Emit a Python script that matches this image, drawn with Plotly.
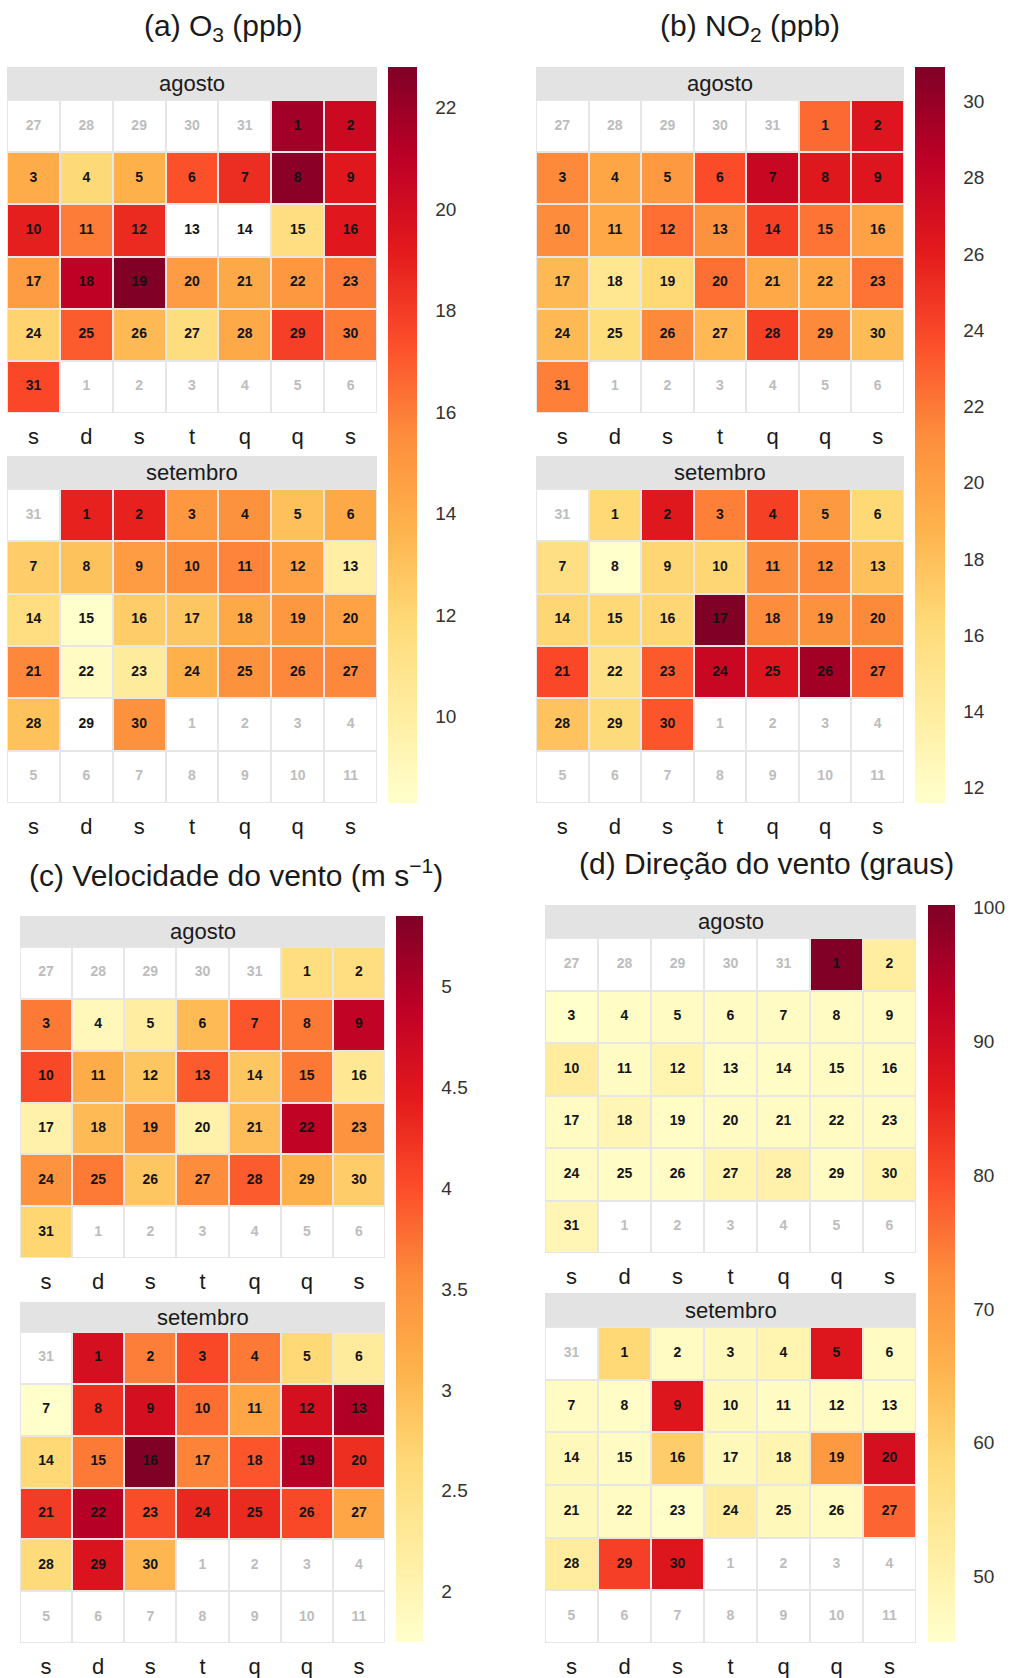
import datetime as dt
import plotly.graph_objects as go

W, H = 1013, 1678
FONT = "Liberation Sans, Arial, sans-serif"

weekday_labels = ["s", "d", "s", "t", "q", "q", "s"]
month_names = ["agosto", "setembro"]
year = 2019
month_numbers = [8, 9]

titles = [
    "(a) O<sub>3</sub> (ppb)",
    "(b) NO<sub>2</sub> (ppb)",
    "(c) Velocidade do vento (m s<sup>\u22121</sup>)",
    "(d) Direção do vento (graus)",
]

# daily values, index = day of month - 1 (None = missing)
o3_aug = [21.8, 20.3, 14.1, 11.9, 13.8, 17.3, 18.5, 22.5, 19.3, 19.0, 16.0, 18.6, None, None, 11.5, 19.3,
          14.8, 20.9, 22.8, 14.8, 14.2, 15.0, 16.0, 12.2, 17.0, 13.4, 11.6, 14.2, 17.9, 16.1, 17.6]
o3_sep = [18.9, 18.9, 15.0, 15.3, 13.1, 14.2, 12.5, 13.0, 14.8, 15.5, 15.8, 14.5, 10.0, 11.5, 8.3,
          12.5, 12.8, 14.2, 15.0, 14.5, 15.7, 8.7, 10.3, 13.8, 15.3, 15.7, 15.7, 13.0, None, 15.3]

no2_aug = [22.6, 26.5, 21.4, 19.7, 20.5, 23.8, 27.8, 26.3, 26.5, 21.3, 19.5, 22.4, 20.9, 24.3, 22.2, 19.9,
           18.4, 14.9, 16.4, 22.4, 19.5, 19.5, 22.2, 18.4, 16.0, 21.4, 18.4, 24.3, 21.4, 18.2, 21.8]
no2_sep = [16.4, 26.3, 21.8, 24.3, 20.5, 16.4, 15.7, 11.6, 16.6, 16.6, 21.3, 21.4, 18.0, 16.6, 16.4,
           16.6, 30.9, 21.3, 20.9, 21.4, 24.0, 15.5, 23.2, 27.8, 26.5, 29.5, 22.8, 17.8, 16.2, 23.4]

ws_aug = [2.54, 2.54, 3.69, 1.93, 2.18, 3.01, 3.95, 3.69, 4.85, 4.05, 3.19, 2.87, 3.91, 2.87, 3.69, 2.33,
          2.11, 3.01, 3.48, 2.11, 2.97, 4.85, 3.48, 3.48, 3.69, 2.87, 3.55, 3.91, 3.12, 2.79, 2.69]
ws_sep = [4.63, 3.66, 4.05, 3.69, 2.65, 2.25, 1.75, 4.27, 4.63, 3.77, 3.26, 4.63, 4.99, 2.65, 3.69,
          5.35, 3.62, 3.95, 4.95, 4.27, 4.16, 4.95, 4.02, 4.34, 4.31, 4.05, 3.26, 2.61, 4.56, 3.05]

wd_aug = [100.2, 52.0, 45.1, 46.1, 46.7, 46.7, 46.7, 46.7, 46.7, 52.2, 46.7, 49.5, 46.1, 46.1, 46.7, 46.7,
          46.7, 48.9, 46.1, 46.7, 46.7, 46.7, 46.7, 46.7, 46.1, 46.1, 49.5, 50.6, 46.7, 49.5, 48.9]
wd_sep = [58.8, 46.7, 47.8, 49.5, 87.5, 46.7, 46.7, 46.1, 87.5, 47.8, 46.7, 46.7, 46.1, 47.8, 46.7,
          61.1, 47.8, 49.5, 70.4, 89.2, 47.8, 46.7, 45.5, 52.2, 47.8, 46.7, 77.0, 52.2, 81.5, 87.5]

series = [(o3_aug, o3_sep), (no2_aug, no2_sep), (ws_aug, ws_sep), (wd_aug, wd_sep)]
colorbar_ticks = [
    [10, 12, 14, 16, 18, 20, 22],
    [12, 14, 16, 18, 20, 22, 24, 26, 28, 30],
    [2, 2.5, 3, 3.5, 4, 4.5, 5],
    [50, 60, 70, 80, 90, 100],
]

YlOrRd = ["#ffffcc", "#ffeda0", "#fed976", "#feb24c", "#fd8d3c", "#fc4e2a", "#e31a1c", "#bd0026", "#800026"]
colorscale = [[i / 8, c] for i, c in enumerate(YlOrRd)]

# layout in pixels: grid x0,x1 ; (header top, cells top, cells bottom) per month ; colorbar ; title centre
panels = [
    dict(gx=(7, 377), blocks=[(67, 100, 413), (456, 489, 803)], cb=(388, 67, 736, 29), title=(223, 27)),
    dict(gx=(536, 904), blocks=[(67, 100, 413), (456, 489, 803)], cb=(915, 67, 736, 30), title=(750, 27)),
    dict(gx=(20, 385), blocks=[(916, 947, 1258), (1302, 1332, 1643)], cb=(396, 916, 726, 27), title=(236, 873)),
    dict(gx=(545, 916), blocks=[(905, 938, 1253), (1293, 1327, 1643)], cb=(928, 905, 737, 27), title=(766, 863)),
]


def month_grid(month, values):
    first = dt.date(year, month, 1)
    col0 = (first.weekday() + 2) % 7  # week starts on Saturday
    start = first - dt.timedelta(days=col0)
    z, days_in, days_out = [], [], []
    for r in range(6):
        row = []
        for c in range(7):
            d = start + dt.timedelta(days=7 * r + c)
            if d.month == month:
                row.append(values[d.day - 1])
                days_in.append((c, r, str(d.day)))
            else:
                row.append(None)
                days_out.append((c, r, str(d.day)))
        z.append(row)
    return z, days_in, days_out


fig = go.Figure()
layout = dict(
    width=W, height=H, margin=dict(l=0, r=0, t=0, b=0),
    paper_bgcolor="white", plot_bgcolor="#e6e6e6",
    font=dict(family=FONT, color="#1a1a1a"),
    showlegend=False, shapes=[], annotations=[],
)

k = 0
for p, panel in enumerate(panels):
    ca = "coloraxis" if p == 0 else f"coloraxis{p + 1}"
    vals = [v for m in series[p] for v in m if v is not None]
    cbx, cby, cblen, cbth = panel["cb"]
    layout[ca] = dict(
        cmin=min(vals), cmax=max(vals), colorscale=colorscale,
        colorbar=dict(
            x=cbx / W, xanchor="left", xpad=0, y=1 - cby / H, yanchor="top", ypad=0,
            len=cblen, lenmode="pixels", thickness=cbth, thicknessmode="pixels",
            outlinewidth=0, tickvals=colorbar_ticks[p], ticks="outside", ticklen=15,
            tickcolor="rgba(0,0,0,0)", tickfont=dict(size=19, color="#333333", family=FONT),
        ),
    )
    tx, ty = panel["title"]
    layout["annotations"].append(dict(
        text=titles[p], x=tx / W, y=1 - ty / H, xref="paper", yref="paper",
        xanchor="center", yanchor="middle", showarrow=False,
        font=dict(size=30, color="#1a1a1a", family=FONT)))
    gx0, gx1 = panel["gx"]
    for m in range(2):
        k += 1
        xa = "x" if k == 1 else f"x{k}"
        ya = "y" if k == 1 else f"y{k}"
        htop, ctop, cbot = panel["blocks"][m]
        z, days_in, days_out = month_grid(month_numbers[m], series[p][m])
        base = [[0] * 7 for _ in range(6)]
        fig.add_trace(go.Heatmap(z=base, x=list(range(7)), y=list(range(6)), xaxis=xa, yaxis=ya,
                                 colorscale=[[0, "white"], [1, "white"]], showscale=False,
                                 xgap=2, ygap=2, hoverinfo="skip"))
        fig.add_trace(go.Heatmap(z=z, x=list(range(7)), y=list(range(6)), xaxis=xa, yaxis=ya,
                                 coloraxis=ca, xgap=2, ygap=2))
        fig.add_trace(go.Scatter(x=[d[0] for d in days_out], y=[d[1] for d in days_out],
                                 text=[d[2] for d in days_out], mode="text", xaxis=xa, yaxis=ya,
                                 textfont=dict(size=14, color="#bdbdbd", family=FONT, weight="bold"),
                                 hoverinfo="skip"))
        fig.add_trace(go.Scatter(x=[d[0] for d in days_in], y=[d[1] for d in days_in],
                                 text=[d[2] for d in days_in], mode="text", xaxis=xa, yaxis=ya,
                                 textfont=dict(size=14, color="#141414", family=FONT, weight="bold"),
                                 hoverinfo="skip"))
        xkey = "xaxis" if k == 1 else f"xaxis{k}"
        ykey = "yaxis" if k == 1 else f"yaxis{k}"
        layout[xkey] = dict(domain=[gx0 / W, gx1 / W], anchor=ya, range=[-0.5, 6.5],
                            tickvals=list(range(7)), ticktext=weekday_labels, ticks="",
                            showgrid=False, zeroline=False, showline=False, fixedrange=True,
                            ticklabelstandoff=8,
                            tickfont=dict(size=22, color="#1a1a1a", family=FONT))
        layout[ykey] = dict(domain=[1 - cbot / H, 1 - ctop / H], anchor=xa, range=[5.5, -0.5],
                            showticklabels=False, showgrid=False, zeroline=False, showline=False,
                            fixedrange=True)
        layout["shapes"].append(dict(type="rect", xref="paper", yref="paper",
                                     x0=gx0 / W, x1=gx1 / W, y0=1 - ctop / H, y1=1 - htop / H,
                                     fillcolor="#e3e3e3", line=dict(width=0), layer="below"))
        layout["annotations"].append(dict(
            text=month_names[m], x=(gx0 + gx1) / 2 / W, y=1 - (htop + ctop) / 2 / H,
            xref="paper", yref="paper", xanchor="center", yanchor="middle", showarrow=False,
            font=dict(size=22, color="#1a1a1a", family=FONT)))

fig.update_layout(**layout)
fig.write_html("out.html", config={"displayModeBar": False},
               post_script="document.body.style.margin='0px';")
